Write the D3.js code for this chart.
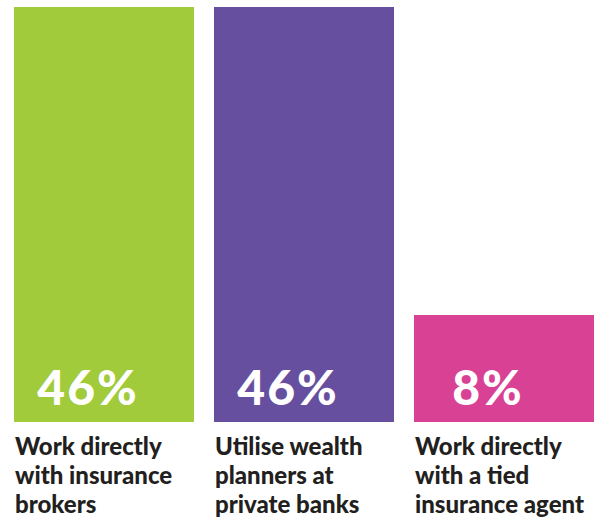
<!DOCTYPE html>
<html>
<head>
<meta charset="utf-8">
<script src="https://cdn.jsdelivr.net/npm/d3@7"></script>
<style>
  body { margin: 0; background: #fff; }
</style>
</head>
<body>
<div id="chart"></div>
<script>
const categories = ["brokers", "banks", "agent"];
const values = [46, 46, 8];
const valueLabels = ["46%", "46%", "8%"];
const labelLines = [
    ["Work directly", "with insurance", "brokers"],
    ["Utilise wealth", "planners at", "private banks"],
    ["Work directly", "with a tied", "insurance agent"]
];
const colors = ["#a1cb3b", "#674f9f", "#d94194"];

const w = 597;
const h = 522;
const baseline = 422;

const svg = d3.select("#chart")
    .append("svg")
    .attr("width", w)
    .attr("height", h);

const x = d3.scaleBand()
    .domain(categories)
    .range([14, 594])
    .paddingInner(0.1)
    .paddingOuter(0);

// bars in the original are not drawn from zero, the 8% bar is taller than true scale
const y = d3.scaleLinear()
    .domain([-5.2, 46])
    .range([baseline, 7]);

const colorScale = d3.scaleOrdinal()
    .domain(categories)
    .range(colors);

const bars = svg.selectAll("g.bar")
    .data(categories)
    .enter()
    .append("g")
    .attr("class", "bar");

bars.append("rect")
    .attr("x", d => x(d))
    .attr("y", (d, i) => y(values[i]))
    .attr("width", x.bandwidth())
    .attr("height", (d, i) => baseline - y(values[i]))
    .style("fill", d => colorScale(d));

bars.append("text")
    .attr("x", d => x(d) + x.bandwidth() / 2 - 16)
    .attr("y", baseline - 17)
    .attr("text-anchor", "middle")
    .style("font-family", "Lato")
    .style("font-weight", 900)
    .style("font-size", "48px")
    .style("letter-spacing", "2px")
    .style("fill", "#fff")
    .text((d, i) => valueLabels[i]);

bars.append("text")
    .attr("x", d => x(d) + 1)
    .attr("y", baseline + 33)
    .style("font-family", "Lato")
    .style("font-weight", 900)
    .style("font-size", "24px")
    .style("fill", "#231f20")
    .selectAll("tspan")
    .data((d, i) => labelLines[i])
    .enter()
    .append("tspan")
    .attr("x", function() { return this.parentNode.getAttribute("x"); })
    .attr("dy", (d, i) => i === 0 ? 0 : 29)
    .text(d => d);
</script>
</body>
</html>
